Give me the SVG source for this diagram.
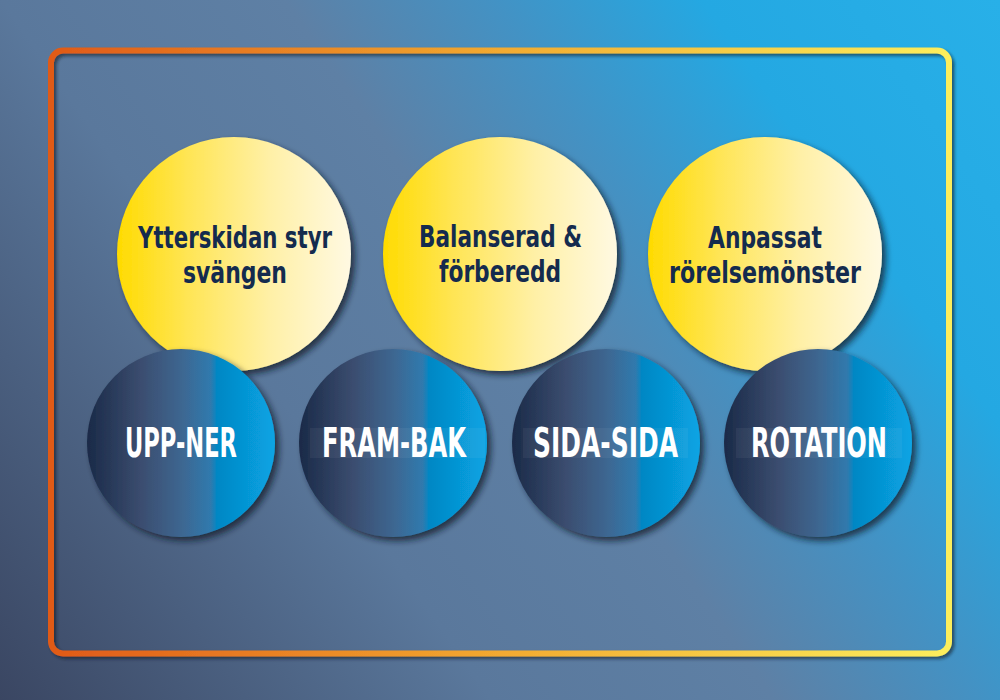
<svg xmlns="http://www.w3.org/2000/svg" width="1000" height="700" viewBox="0 0 1000 700">
  <defs>
    <linearGradient id="bg" gradientUnits="userSpaceOnUse" x1="0" y1="700" x2="1000" y2="0">
      <stop offset="0" stop-color="#3a4662"/>
      <stop offset="0.33" stop-color="#5a789c"/>
      <stop offset="0.52" stop-color="#5e80a5"/>
      <stop offset="0.66" stop-color="#4392c4"/>
      <stop offset="0.8" stop-color="#24a8e2"/>
      <stop offset="1" stop-color="#28b0e8"/>
    </linearGradient>
    <linearGradient id="frameGrad" x1="0" y1="0" x2="1" y2="0">
      <stop offset="0" stop-color="#e05a18"/>
      <stop offset="0.5" stop-color="#f2aa30"/>
      <stop offset="1" stop-color="#fcee5c"/>
    </linearGradient>
    <linearGradient id="yellowGrad" x1="0" y1="0" x2="1" y2="0">
      <stop offset="0" stop-color="#ffdb00"/>
      <stop offset="0.3" stop-color="#ffe554"/>
      <stop offset="0.65" stop-color="#fff0a6"/>
      <stop offset="1" stop-color="#fff9e2"/>
    </linearGradient>
    <linearGradient id="blueGrad" x1="0" y1="0" x2="1" y2="0">
      <stop offset="0" stop-color="#1a2a48"/>
      <stop offset="0.28" stop-color="#3a4c6e"/>
      <stop offset="0.5" stop-color="#3e6690"/>
      <stop offset="0.66" stop-color="#2f7aae"/>
      <stop offset="0.69" stop-color="#0487c4"/>
      <stop offset="1" stop-color="#08a4e4"/>
    </linearGradient>
    <filter id="shadow" x="-20%" y="-20%" width="140%" height="140%">
      <feDropShadow dx="4" dy="4" stdDeviation="3" flood-color="#101a28" flood-opacity="0.75"/>
    </filter>
    <filter id="frameShadow" x="-5%" y="-5%" width="110%" height="110%">
      <feDropShadow dx="2.5" dy="2.5" stdDeviation="1.5" flood-color="#101a28" flood-opacity="0.6"/>
    </filter>
    <style>
      .ytext { font-family: 'Liberation Sans Narrow', 'DejaVu Sans Condensed', 'Liberation Sans', sans-serif; font-weight: bold; font-stretch: condensed; font-size: 31px; fill: #142b4e; text-anchor: middle; }
      .btext { font-family: 'Liberation Sans Narrow', 'DejaVu Sans Condensed', 'Liberation Sans', sans-serif; font-weight: bold; font-stretch: condensed; font-size: 40px; fill: #ffffff; text-anchor: middle; }
      .ycirc { fill: url(#yellowGrad); filter: url(#shadow); }
      .bcirc { fill: url(#blueGrad); filter: url(#shadow); }
      .tbox { fill: #ffffff; fill-opacity: 0.05; }
    </style>
  </defs>

  <rect x="0" y="0" width="1000" height="700" fill="url(#bg)"/>

  <g id="frame">
    <rect x="51" y="50.5" width="898" height="603" rx="12" ry="12" fill="none" stroke="url(#frameGrad)" stroke-width="6" filter="url(#frameShadow)"/>
  </g>

  <g id="connectors"></g>

  <g id="node-ytterskidan">
    <circle class="ycirc" cx="234" cy="254" r="117"/>
    <text class="ytext" x="235" y="248" textLength="194" lengthAdjust="spacingAndGlyphs">Ytterskidan styr</text>
    <text class="ytext" x="235" y="283" textLength="104" lengthAdjust="spacingAndGlyphs">svängen</text>
  </g>

  <g id="node-balanserad">
    <circle class="ycirc" cx="500" cy="254" r="117"/>
    <text class="ytext" x="500.5" y="247" textLength="163" lengthAdjust="spacingAndGlyphs">Balanserad &amp;</text>
    <text class="ytext" x="500" y="282" textLength="122" lengthAdjust="spacingAndGlyphs">förberedd</text>
  </g>

  <g id="node-anpassat">
    <circle class="ycirc" cx="765" cy="254" r="117"/>
    <text class="ytext" x="765" y="248" textLength="114" lengthAdjust="spacingAndGlyphs">Anpassat</text>
    <text class="ytext" x="765" y="283" textLength="192" lengthAdjust="spacingAndGlyphs">rörelsemönster</text>
  </g>

  <g id="node-upp-ner">
    <circle class="bcirc" cx="181" cy="443" r="94"/>
    <text class="btext" x="181" y="457" textLength="112" lengthAdjust="spacingAndGlyphs">UPP-NER</text>
  </g>

  <g id="node-fram-bak">
    <circle class="bcirc" cx="393" cy="443" r="94"/>
    <rect class="tbox" x="310" y="428" width="175" height="30"/>
    <text class="btext" x="394" y="457" textLength="144" lengthAdjust="spacingAndGlyphs">FRAM-BAK</text>
  </g>

  <g id="node-sida-sida">
    <circle class="bcirc" cx="606" cy="443" r="94"/>
    <rect class="tbox" x="523" y="428" width="165" height="30"/>
    <text class="btext" x="605.5" y="457" textLength="145" lengthAdjust="spacingAndGlyphs">SIDA-SIDA</text>
  </g>

  <g id="node-rotation">
    <circle class="bcirc" cx="818" cy="443" r="94"/>
    <rect class="tbox" x="736" y="428" width="166" height="30"/>
    <text class="btext" x="819" y="457" textLength="136" lengthAdjust="spacingAndGlyphs">ROTATION</text>
  </g>
</svg>
